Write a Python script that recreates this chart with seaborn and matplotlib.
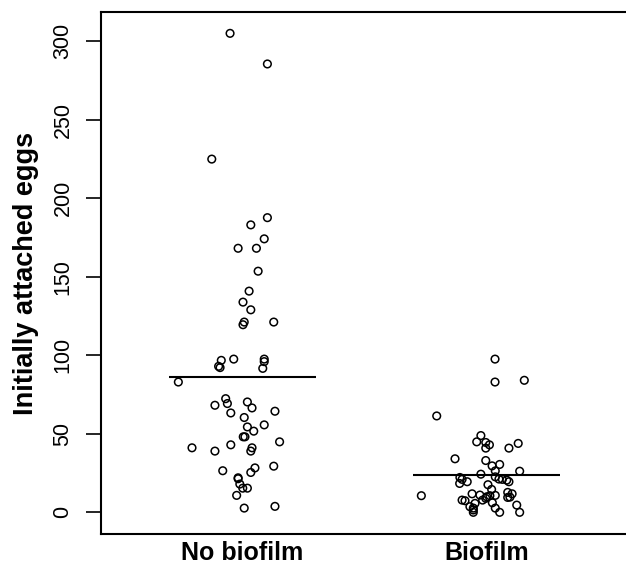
import numpy as np
import pandas as pd
import matplotlib
matplotlib.use("Agg")
import matplotlib.pyplot as plt
import seaborn as sns

# group names and the horizontal bar height for each group
groups = ["No biofilm", "Biofilm"]
centre_lines = [86, 23.5]

# No biofilm: eggs and the jitter offset
nobio_eggs = [305.1, 285.6, 225.0, 187.7, 183.1, 174.2, 168.2, 168.2, 153.6,
              140.9, 133.9, 129.0, 121.2, 119.5, 121.2, 96.8, 93.0, 92.2, 97.6,
              97.6, 96.0, 91.7, 83.0, 72.4, 69.3, 68.2, 70.3, 66.5, 63.3, 64.4,
              60.4, 54.4, 55.7, 51.7, 48.1, 48.1, 44.9, 43.0, 41.1, 41.1, 39.0,
              39.0, 29.4, 28.3, 26.5, 25.4, 22.0, 21.4, 18.0, 15.4, 15.4, 10.8,
              2.7, 3.8]
nobio_jit = [-0.051, 0.102, -0.126, 0.102, 0.034, 0.089, -0.018, 0.057, 0.064,
             0.027, 0.002, 0.034, 0.007, 0.002, 0.128, -0.087, -0.098, -0.092, -0.036,
             0.089, 0.089, 0.083, -0.263, -0.069, -0.062, -0.113, 0.020, 0.039, -0.048, 0.133,
             0.007, 0.020, 0.089, 0.046, 0.003, 0.010, 0.152, -0.048, -0.207, 0.039, 0.034,
             -0.113, 0.128, 0.051, -0.081, 0.034, -0.018, -0.018, -0.011, 0.001, 0.020, -0.024,
             0.007, 0.133]

# Biofilm
bio_eggs = [97.6, 83.0, 84.1, 61.4, 48.9, 44.9, 44.5, 43.0, 40.9, 40.9, 43.9,
            34.1, 33.0, 29.6, 30.5, 26.4, 26.2, 24.3, 22.2, 21.0, 18.4, 19.5,
            22.6, 21.2, 21.0, 20.5, 19.5, 10.6, 11.8, 11.0, 17.6, 14.6, 9.9,
            10.6, 10.8, 7.8, 8.9, 12.7, 11.8, 9.5, 9.7, 7.8, 7.4, 3.6, 2.7,
            5.7, 1.5, 0.0, 6.1, 2.7, 0.0, 4.6, 0.0]
bio_jit = [0.035, 0.035, 0.155, -0.204, -0.023, -0.040, -0.003, 0.012, -0.003, 0.092, 0.130,
           -0.129, -0.003, 0.023, 0.054, 0.036, 0.136, -0.023, -0.109, -0.100, -0.110, -0.079,
           0.036, 0.051, 0.065, 0.083, 0.092, -0.267, -0.059, -0.027, 0.006, 0.021, 0.001,
           0.014, 0.036, -0.016, -0.003, 0.087, 0.105, 0.087, 0.096, -0.100, -0.088, -0.068, -0.054,
           -0.047, -0.054, -0.054, 0.024, 0.036, 0.054, 0.124, 0.136]

df = pd.DataFrame({
    "group": [groups[0]] * len(nobio_eggs) + [groups[1]] * len(bio_eggs),
    "eggs": nobio_eggs + bio_eggs,
    "jit": nobio_jit + bio_jit,
})
df["xpos"] = df["group"].map({g: i + 1 for i, g in enumerate(groups)}) + df["jit"]

sns.set_style("ticks")
plt.rcParams["font.family"] = ["Liberation Sans", "DejaVu Sans"]
plt.rcParams["text.color"] = "black"
plt.rcParams["xtick.color"] = "black"
plt.rcParams["ytick.color"] = "black"
plt.rcParams["axes.labelcolor"] = "black"

fig = plt.figure(figsize=(6.26, 5.73), dpi=100)
ax = fig.add_axes([101 / 626, 39 / 573, 527 / 626, 522 / 573])

sns.scatterplot(data=df, x="xpos", y="eggs", ax=ax, marker="o", s=30,
                facecolor="none", edgecolor="black", linewidth=1.1, legend=False)

for i, c in enumerate(centre_lines):
    ax.hlines(c, i + 1 - 0.30, i + 1 + 0.30, color="black", lw=1.5)

ax.set_xlim(0.42, 2.58)
ax.set_ylim(-13.8, 318.7)
ax.set_xticks([1, 2])
ax.set_xticklabels(groups, fontsize=18, fontweight="bold")
ax.tick_params(axis="x", length=0, pad=5)
ax.set_yticks([0, 50, 100, 150, 200, 250, 300])
ax.set_yticklabels(["0", "50", "100", "150", "200", "250", "300"], rotation=90,
                   va="center", fontsize=15.5)
ax.tick_params(axis="y", length=10.8, width=1.2, pad=9)
ax.set_xlabel("")
ax.set_ylabel("Initially attached eggs", fontsize=19.5, fontweight="bold", labelpad=10)
for sp in ax.spines.values():
    sp.set_linewidth(1.5)
    sp.set_color("black")

fig.savefig("out.png", dpi=100)
